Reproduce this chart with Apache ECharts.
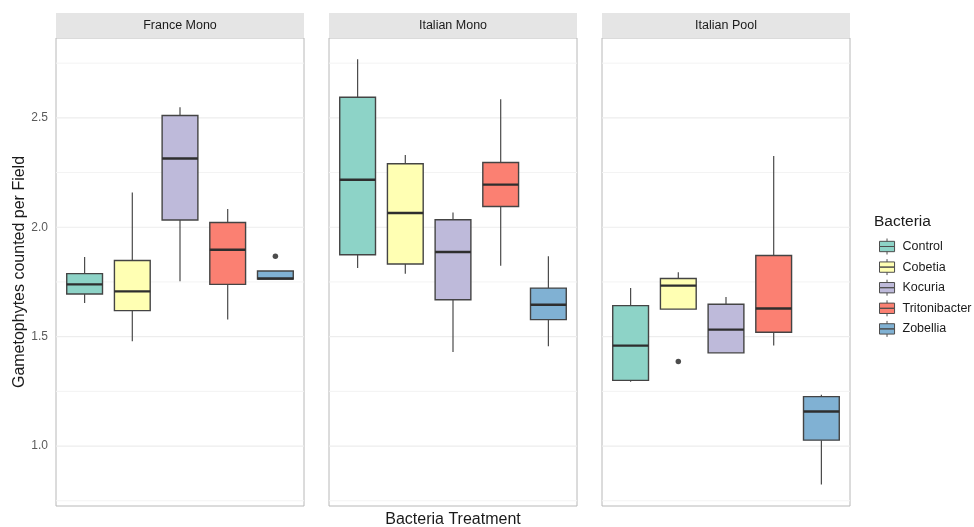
<!DOCTYPE html>
<html>
<head>
<meta charset="utf-8">
<script src="https://cdn.jsdelivr.net/npm/echarts@6/dist/echarts.min.js"></script>
<style>
  html, body { margin: 0; padding: 0; background: #fff; }
  #chart { width: 974px; height: 527px; }
</style>
</head>
<body>
<div id="chart"></div>
<script>
// ---- data ----
const panels = ['France Mono', 'Italian Mono', 'Italian Pool'];
const bacteria = ['Control', 'Cobetia', 'Kocuria', 'Tritonibacter', 'Zobellia'];
const colors = ['#8DD3C7', '#FFFFB3', '#BEBADA', '#FB8072', '#80B1D3'];
// [lower whisker, Q1, median, Q3, upper whisker] per bacteria
const franceMono = [
  [1.654, 1.695, 1.739, 1.788, 1.864],
  [1.479, 1.619, 1.707, 1.848, 2.159],
  [1.753, 2.033, 2.314, 2.511, 2.549],
  [1.578, 1.739, 1.897, 2.022, 2.083],
  [1.763, 1.763, 1.766, 1.800, 1.800]
];
const italianMono = [
  [1.814, 1.874, 2.217, 2.594, 2.768],
  [1.788, 1.832, 2.065, 2.290, 2.330],
  [1.430, 1.669, 1.887, 2.034, 2.068],
  [1.824, 2.095, 2.195, 2.296, 2.585],
  [1.456, 1.578, 1.646, 1.722, 1.867]
];
const italianPool = [
  [1.294, 1.300, 1.459, 1.642, 1.722],
  [1.626, 1.626, 1.733, 1.766, 1.794],
  [1.426, 1.426, 1.532, 1.648, 1.681],
  [1.459, 1.520, 1.629, 1.871, 2.326],
  [0.824, 1.027, 1.158, 1.226, 1.235]
];
const franceMonoOutliers = [['Zobellia', 1.867]];
const italianMonoOutliers = [];
const italianPoolOutliers = [['Cobetia', 1.386]];
const yTickValues = [1.0, 1.5, 2.0, 2.5];
const yGridValues = [0.75, 1.0, 1.25, 1.5, 1.75, 2.0, 2.25, 2.5, 2.75];
const yRange = [0.726, 2.865];

// ---- layout ----
const panelData = [franceMono, italianMono, italianPool];
const panelOutliers = [franceMonoOutliers, italianMonoOutliers, italianPoolOutliers];
const PANEL_LEFT = [56, 329, 602];
const PANEL_TOP = 38, PANEL_W = 248, PANEL_H = 468;
const STRIP_TOP = 13, STRIP_H = 25;
const FONT = '"Liberation Sans", Arial, Helvetica, sans-serif';

const chart = echarts.init(document.getElementById('chart'), null, { renderer: 'canvas' });

const grid = [], xAxis = [], yAxis = [], series = [], graphic = [];

function renderGridLines(params, api) {
  const v = api.value(0);
  const a = api.coord([0.4, v]);
  const b = api.coord([5.6, v]);
  const major = yTickValues.indexOf(v) >= 0;
  return {
    type: 'line',
    shape: { x1: a[0], y1: a[1], x2: b[0], y2: b[1] },
    style: { stroke: major ? '#ededed' : '#f3f3f3', lineWidth: major ? 1.2 : 1 },
    silent: true
  };
}

function renderBox(params, api) {
  const x = api.value(0);
  const pLo = api.coord([x, api.value(1)]);
  const pQ1 = api.coord([x, api.value(2)]);
  const pMed = api.coord([x, api.value(3)]);
  const pQ3 = api.coord([x, api.value(4)]);
  const pHi = api.coord([x, api.value(5)]);
  const half = api.size([1, 0])[0] * 0.75 / 2;
  const color = api.visual('color');
  return {
    type: 'group',
    children: [
      { type: 'line', shape: { x1: pHi[0], y1: pHi[1], x2: pQ3[0], y2: pQ3[1] },
        style: { stroke: '#4a4a4a', lineWidth: 1.2 } },
      { type: 'line', shape: { x1: pQ1[0], y1: pQ1[1], x2: pLo[0], y2: pLo[1] },
        style: { stroke: '#4a4a4a', lineWidth: 1.2 } },
      { type: 'rect', shape: { x: pQ3[0] - half, y: pQ3[1], width: half * 2, height: pQ1[1] - pQ3[1] },
        style: { fill: color, stroke: '#444444', lineWidth: 1.4 } },
      { type: 'line', shape: { x1: pMed[0] - half, y1: pMed[1], x2: pMed[0] + half, y2: pMed[1] },
        style: { stroke: '#2e2e2e', lineWidth: 2.4 } }
    ]
  };
}

panels.forEach((name, i) => {
  grid.push({
    left: PANEL_LEFT[i], top: PANEL_TOP, width: PANEL_W, height: PANEL_H,
    show: true, borderColor: '#b8b8b8', borderWidth: 1, backgroundColor: '#ffffff'
  });
  xAxis.push({
    type: 'value', gridIndex: i, min: 0.4, max: 5.6,
    axisLine: { show: false }, axisTick: { show: false },
    axisLabel: { show: false }, splitLine: { show: false }
  });
  const y = {
    type: 'value', gridIndex: i, min: yRange[0], max: yRange[1],
    axisLine: { show: false }, axisTick: { show: false },
    splitLine: { show: false },
    axisLabel: {
      show: i === 0, customValues: yTickValues, margin: 8,
      color: '#5a5a5a', fontSize: 12, fontFamily: FONT,
      formatter: v => Number(v).toFixed(1)
    }
  };
  if (i === 0) {
    y.name = 'Gametophytes counted per Field';
    y.nameLocation = 'middle';
    y.nameRotate = 90;
    y.nameGap = 28;
    y.nameTextStyle = { fontSize: 16, color: '#1a1a1a', fontFamily: FONT };
  }
  yAxis.push(y);

  // gridlines
  series.push({
    type: 'custom', xAxisIndex: i, yAxisIndex: i, silent: true, z: 1,
    renderItem: renderGridLines,
    data: yGridValues.map(v => [v]),
    encode: { y: 0 }
  });

  // boxes
  bacteria.forEach((b, j) => {
    const d = panelData[i][j];
    series.push({
      name: b, type: 'custom', xAxisIndex: i, yAxisIndex: i, z: 3,
      itemStyle: { color: colors[j], borderColor: '#444444', borderWidth: 1 },
      renderItem: renderBox,
      encode: { x: 0, y: [1, 2, 3, 4, 5] },
      data: [[j + 1].concat(d)]
    });
  });

  // outliers
  series.push({
    type: 'scatter', xAxisIndex: i, yAxisIndex: i, z: 4,
    symbol: 'circle', symbolSize: 5.5,
    itemStyle: { color: '#1f1f1f' },
    data: panelOutliers[i].map(o => [bacteria.indexOf(o[0]) + 1, o[1]])
  });

  // strip
  graphic.push({
    type: 'rect', left: PANEL_LEFT[i], top: STRIP_TOP,
    shape: { width: PANEL_W, height: STRIP_H },
    style: { fill: '#e5e5e5' }, silent: true
  });
  graphic.push({
    type: 'text', x: PANEL_LEFT[i] + PANEL_W / 2, y: STRIP_TOP + STRIP_H / 2,
    style: { text: name, fill: '#1a1a1a', fontSize: 12.5, fontFamily: FONT,
             align: 'center', verticalAlign: 'middle' },
    silent: true
  });
});

// x axis title
graphic.push({
  type: 'text', x: (PANEL_LEFT[0] + PANEL_LEFT[2] + PANEL_W) / 2, y: 520,
  style: { text: 'Bacteria Treatment', fill: '#1a1a1a', fontSize: 16, fontFamily: FONT,
           align: 'center', verticalAlign: 'middle' },
  silent: true
});
// legend title
graphic.push({
  type: 'text', x: 874, y: 222,
  style: { text: 'Bacteria', fill: '#1a1a1a', fontSize: 15.5, fontFamily: FONT,
           align: 'left', verticalAlign: 'middle' },
  silent: true
});

const option = {
  backgroundColor: '#ffffff',
  animation: false,
  grid, xAxis, yAxis, series, graphic,
  legend: {
    data: bacteria,
    orient: 'vertical',
    left: 874, top: 233,
    itemWidth: 17, itemHeight: 16, itemGap: 3.6,
    icon: 'path://M9,0V3 M1,3H17V8.5H1Z M1,8.5H17V14H1Z M9,14V17',
    itemStyle: { borderColor: '#4d4d4d', borderWidth: 1 },
    textStyle: { fontSize: 12.5, color: '#1a1a1a', fontFamily: FONT, padding: [0, 0, 0, 2] },
    selectedMode: false
  }
};

chart.setOption(option);
</script>
</body>
</html>
